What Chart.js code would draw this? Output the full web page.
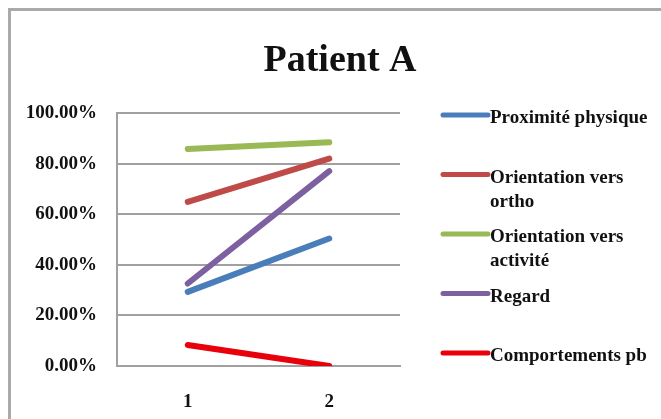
<!DOCTYPE html>
<html>
<head>
<meta charset="utf-8">
<script src="https://cdn.jsdelivr.net/npm/chart.js@4/dist/chart.umd.min.js"></script>
<style>
  html, body { margin: 0; padding: 0; background: #fff; overflow: hidden; }
  #wrap { position: relative; width: 661px; height: 419px; }
  #frame {
    position: absolute; left: 8px; top: 8px; width: 700px; height: 460px;
    border-top: 3px solid #aaaaaa; border-left: 3px solid #aaaaaa;
    box-sizing: border-box;
  }
  #c { position: absolute; left: 0; top: 0; }
</style>
</head>
<body>
<div id="wrap">
  <div id="frame"></div>
  <canvas id="c" width="661" height="419"></canvas>
</div>
<script>
// Observation sessions
const sessions = ['1', '2'];

// Share of observed time per behaviour (%)
const proximitePhysique = [29.3, 50.4];
const orientationOrtho = [64.9, 82.0];
const orientationActivite = [85.8, 88.4];
const regard = [32.6, 77.0];
const comportementsPb = [8.3, 0];

const seriesNames = [
  'Proximité physique',
  'Orientation vers ortho',
  'Orientation vers activité',
  'Regard',
  'Comportements pb'
];
const seriesColors = ['#4A7EBB', '#BE4B48', '#98B954', '#7D60A0', '#E8000B'];
const yTicks = [0, 20, 40, 60, 80, 100];

const chartTitle = 'Patient A';
const SERIF = '"Liberation Serif", "Times New Roman", serif';

const seriesValues = [proximitePhysique, orientationOrtho, orientationActivite, regard, comportementsPb];

const datasets = seriesValues.map((vals, i) => ({
  label: seriesNames[i],
  data: vals,
  borderColor: seriesColors[i],
  backgroundColor: seriesColors[i],
  borderWidth: 6,
  borderCapStyle: 'round',
  borderJoinStyle: 'round',
  pointRadius: 0,
  pointHoverRadius: 0,
  tension: 0,
  order: seriesValues.length - i
}));

// Title and wrapped side legend, drawn on the canvas
const decorations = {
  id: 'decorations',
  afterDraw(chart) {
    const ctx = chart.ctx;
    ctx.save();
    ctx.fillStyle = '#111';
    ctx.font = 'bold 38px ' + SERIF;
    ctx.textAlign = 'center';
    ctx.textBaseline = 'alphabetic';
    ctx.fillText(chartTitle, 340, 71);

    ctx.font = 'bold 19px ' + SERIF;
    ctx.textAlign = 'left';
    const x0 = 443, x1 = 488, tx = 490, maxW = 168;
    const firstY = 115, step = 59.5, lineH = 24;
    chart.data.datasets.forEach((ds, i) => {
      const y = firstY + i * step;
      ctx.strokeStyle = ds.borderColor;
      ctx.lineWidth = 5;
      ctx.lineCap = 'round';
      ctx.beginPath();
      ctx.moveTo(x0, y);
      ctx.lineTo(x1, y);
      ctx.stroke();

      // simple word wrap
      const words = ds.label.split(' ');
      const lines = [];
      let cur = '';
      words.forEach(w => {
        const t = cur ? cur + ' ' + w : w;
        if (ctx.measureText(t).width > maxW && cur) { lines.push(cur); cur = w; }
        else cur = t;
      });
      if (cur) lines.push(cur);
      ctx.fillStyle = '#111';
      lines.forEach((ln, k) => ctx.fillText(ln, tx, y + 8 + k * lineH));
    });
    ctx.restore();
  }
};

new Chart(document.getElementById('c'), {
  type: 'line',
  data: { labels: sessions, datasets },
  options: {
    responsive: false,
    animation: false,
    devicePixelRatio: 1,
    layout: { padding: { top: 113, right: 261, left: 0, bottom: 0 } },
    plugins: {
      legend: { display: false },
      title: { display: false },
      tooltip: { enabled: false }
    },
    scales: {
      x: {
        offset: true,
        grid: { display: false, drawTicks: false },
        border: { display: true, color: '#a0a0a0', width: 2 },
        ticks: {
          color: '#111',
          font: { family: SERIF, size: 19, weight: 'bold' },
          padding: 25,
          maxRotation: 0
        },
        afterFit(s) { s.height = 419 - 366; }
      },
      y: {
        min: 0,
        max: 100,
        afterBuildTicks(s) { s.ticks = yTicks.map(v => ({ value: v })); },
        grid: { color: '#a0a0a0', lineWidth: 2, drawTicks: false },
        border: { display: true, color: '#a0a0a0', width: 2 },
        ticks: {
          color: '#111',
          font: { family: SERIF, size: 19, weight: 'bold' },
          padding: 20,
          callback: v => v.toFixed(2) + '%'
        },
        afterFit(s) { s.width = 117; }
      }
    }
  },
  plugins: [decorations]
});
</script>
</body>
</html>
